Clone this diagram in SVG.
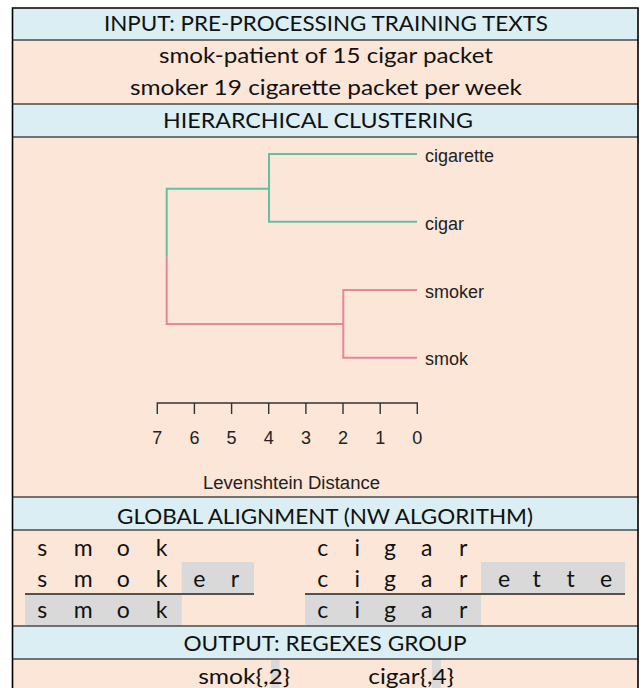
<svg xmlns="http://www.w3.org/2000/svg" width="644" height="688" viewBox="0 0 644 688">
<style>
.hd{fill:#DAEEF3}
.bd{fill:#FBE6D8}
.sep{stroke:#4a4a4a;stroke-width:1.5}
.cal{font-family:Lato,"Open Sans","Liberation Sans",sans-serif;fill:#111;font-size:21px;text-anchor:middle}
.al{font-family:Lato,"Open Sans","Liberation Sans",sans-serif;fill:#111;font-size:23px;text-anchor:middle}
.ar{font-family:"Liberation Sans",Arial,sans-serif;fill:#222;font-size:18px}
.arc{font-family:"Liberation Sans",Arial,sans-serif;fill:#222;font-size:18px;text-anchor:middle}
.g{stroke:#66BFA3;stroke-width:2;fill:none}
.r{stroke:#E8879A;stroke-width:2;fill:none}
.ax{stroke:#333;stroke-width:1.4;fill:none}
.gray{fill:#D9D9D9}
.ul{stroke:#222;stroke-width:1.3}
</style>
<g id="input-header">
<rect class="hd" x="12.5" y="8" width="625.5" height="32"/>
<text class="cal" x="326" y="31" textLength="444" lengthAdjust="spacingAndGlyphs">INPUT: PRE-PROCESSING TRAINING TEXTS</text>
</g>
<g id="input-texts">
<rect class="bd" x="12.5" y="40" width="625.5" height="64"/>
<text class="cal" x="326" y="63" textLength="334" lengthAdjust="spacingAndGlyphs">smok-patient of 15 cigar packet</text>
<text class="cal" x="326" y="94.5" textLength="392" lengthAdjust="spacingAndGlyphs">smoker 19 cigarette packet per week</text>
</g>
<g id="clustering-header">
<rect class="hd" x="12.5" y="104" width="625.5" height="33"/>
<text class="cal" x="318" y="128" textLength="310" lengthAdjust="spacingAndGlyphs">HIERARCHICAL CLUSTERING</text>
</g>
<g id="dendrogram">
<rect class="bd" x="12.5" y="137" width="625.5" height="360"/>
<g id="leaf-cigarette"><text class="ar" x="425" y="162">cigarette</text></g>
<g id="leaf-cigar"><text class="ar" x="425" y="229.5">cigar</text></g>
<g id="leaf-smoker"><text class="ar" x="425" y="297.5">smoker</text></g>
<g id="leaf-smok"><text class="ar" x="425" y="365">smok</text></g>
<g id="axis">
<path class="ax" d="M157.3,414V403H417.3V414M194.4,403V414M231.6,403V414M268.7,403V414M305.9,403V414M343,403V414M380.2,403V414"/>
<text class="arc" x="157.3" y="444">7</text>
<text class="arc" x="194.4" y="444">6</text>
<text class="arc" x="231.6" y="444">5</text>
<text class="arc" x="268.7" y="444">4</text>
<text class="arc" x="305.9" y="444">3</text>
<text class="arc" x="343" y="444">2</text>
<text class="arc" x="380.2" y="444">1</text>
<text class="arc" x="417.3" y="444">0</text>
<text class="arc" x="291.5" y="489" textLength="177" lengthAdjust="spacingAndGlyphs">Levenshtein Distance</text>
</g>
</g>
<g id="connectors">
<path class="g" d="M417,154H269V221.7H417M269,188.7H166.7V256.7"/>
<path class="r" d="M166.7,256.7V324H343.3M417,290H343.3V357.7H417"/>
</g>
<g id="alignment-header">
<rect class="hd" x="12.5" y="497" width="625.5" height="33"/>
<text class="cal" x="325" y="524" textLength="416" lengthAdjust="spacingAndGlyphs">GLOBAL ALIGNMENT (NW ALGORITHM)</text>
</g>
<g id="alignment">
<rect class="bd" x="12.5" y="530" width="625.5" height="96"/>
<rect class="gray" x="181.7" y="562" width="72.3" height="32"/>
<rect class="gray" x="25" y="594" width="156.7" height="32"/>
<rect class="gray" x="481" y="562" width="144" height="32"/>
<rect class="gray" x="305" y="594" width="176" height="32"/>
<line class="ul" x1="25" y1="594" x2="254" y2="594"/>
<line class="ul" x1="305" y1="594" x2="625" y2="594"/>
<g id="align-smok">
<text class="al" x="42.3" y="556">s</text><text class="al" x="83.3" y="556">m</text><text class="al" x="123.3" y="556">o</text><text class="al" x="161.7" y="556">k</text>
<text class="al" x="42.3" y="587">s</text><text class="al" x="83.3" y="587">m</text><text class="al" x="123.3" y="587">o</text><text class="al" x="161.7" y="587">k</text><text class="al" x="199.3" y="587">e</text><text class="al" x="235" y="587">r</text>
<text class="al" x="42.3" y="618">s</text><text class="al" x="83.3" y="618">m</text><text class="al" x="123.3" y="618">o</text><text class="al" x="161.7" y="618">k</text>
</g>
<g id="align-cigar">
<text class="al" x="322.7" y="556">c</text><text class="al" x="357.3" y="556">i</text><text class="al" x="390" y="556">g</text><text class="al" x="426.7" y="556">a</text><text class="al" x="463.3" y="556">r</text>
<text class="al" x="322.7" y="587">c</text><text class="al" x="357.3" y="587">i</text><text class="al" x="390" y="587">g</text><text class="al" x="426.7" y="587">a</text><text class="al" x="463.3" y="587">r</text><text class="al" x="504" y="587">e</text><text class="al" x="536.7" y="587">t</text><text class="al" x="570.7" y="587">t</text><text class="al" x="606" y="587">e</text>
<text class="al" x="322.7" y="618">c</text><text class="al" x="357.3" y="618">i</text><text class="al" x="390" y="618">g</text><text class="al" x="426.7" y="618">a</text><text class="al" x="463.3" y="618">r</text>
</g>
</g>
<g id="output-header">
<rect class="hd" x="12.5" y="626" width="625.5" height="33"/>
<text class="cal" x="325" y="651" textLength="283" lengthAdjust="spacingAndGlyphs">OUTPUT: REGEXES GROUP</text>
</g>
<g id="output">
<rect class="bd" x="12.5" y="659" width="625.5" height="30"/>
<rect class="gray" x="271" y="659" width="8.5" height="30"/>
<rect class="gray" x="432" y="659" width="9" height="30"/>
<text class="cal" x="244.2" y="684" textLength="92" lengthAdjust="spacingAndGlyphs">smok{,2}</text>
<text class="cal" x="411.2" y="684" textLength="86" lengthAdjust="spacingAndGlyphs">cigar{,4}</text>
</g>
<g id="frame">
<line class="sep" x1="12.5" y1="40" x2="638" y2="40"/>
<line class="sep" x1="12.5" y1="104" x2="638" y2="104"/>
<line class="sep" x1="12.5" y1="137" x2="638" y2="137"/>
<line class="sep" x1="12.5" y1="497" x2="638" y2="497"/>
<line class="sep" x1="12.5" y1="530" x2="638" y2="530"/>
<line class="sep" x1="12.5" y1="626" x2="638" y2="626"/>
<line class="sep" x1="12.5" y1="659" x2="638" y2="659"/>
<path d="M12.5,690V8H638V690" fill="none" stroke="#000" stroke-width="1.6"/>
</g>
</svg>
